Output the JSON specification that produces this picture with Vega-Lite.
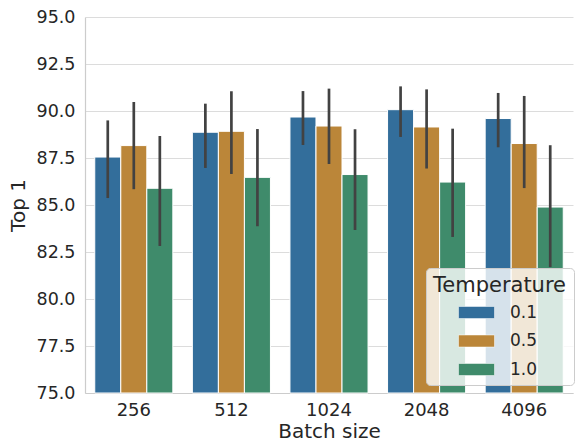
{
  "$schema": "https://vega.github.io/schema/vega-lite/v6.json",
  "width": 488,
  "height": 376,
  "autosize": "none",
  "padding": {"left": 85, "top": 17, "right": 4, "bottom": 50},
  "background": "white",
  "config": {
    "view": {"stroke": null},
    "font": "DejaVu Sans",
    "axis": {"labelFont": "DejaVu Sans", "titleFont": "DejaVu Sans", "labelColor": "#262626", "titleColor": "#262626", "titleFontWeight": "normal", "ticks": false, "domainColor": "#cccccc", "gridColor": "#dcdcdc", "domainWidth": 1.2}
  },
  "data": {
    "values": [
      {"batch": "256", "temp": "0.1", "mean": 87.55, "lo": 85.37, "hi": 89.5},
      {"batch": "256", "temp": "0.5", "mean": 88.16, "lo": 85.84, "hi": 90.48},
      {"batch": "256", "temp": "1.0", "mean": 85.89, "lo": 82.82, "hi": 88.67},
      {"batch": "512", "temp": "0.1", "mean": 88.87, "lo": 86.97, "hi": 90.39},
      {"batch": "512", "temp": "0.5", "mean": 88.92, "lo": 86.65, "hi": 91.05},
      {"batch": "512", "temp": "1.0", "mean": 86.47, "lo": 83.87, "hi": 89.04},
      {"batch": "1024", "temp": "0.1", "mean": 89.68, "lo": 88.19, "hi": 91.06},
      {"batch": "1024", "temp": "0.5", "mean": 89.2, "lo": 87.18, "hi": 91.19},
      {"batch": "1024", "temp": "1.0", "mean": 86.62, "lo": 83.67, "hi": 89.03},
      {"batch": "2048", "temp": "0.1", "mean": 90.07, "lo": 88.62, "hi": 91.31},
      {"batch": "2048", "temp": "0.5", "mean": 89.15, "lo": 86.94, "hi": 91.15},
      {"batch": "2048", "temp": "1.0", "mean": 86.22, "lo": 83.3, "hi": 89.06},
      {"batch": "4096", "temp": "0.1", "mean": 89.6, "lo": 88.07, "hi": 90.96},
      {"batch": "4096", "temp": "0.5", "mean": 88.27, "lo": 85.9, "hi": 90.8},
      {"batch": "4096", "temp": "1.0", "mean": 84.89, "lo": 81.7, "hi": 88.18}
    ]
  },
  "encoding": {
    "x": {
      "field": "batch", "type": "nominal",
      "sort": ["256", "512", "1024", "2048", "4096"],
      "scale": {"paddingInner": 0.2, "paddingOuter": 0.1},
      "axis": {"labelAngle": 0, "labelFontSize": 18, "labelPadding": 8, "title": "Batch size", "titleFontSize": 20, "titlePadding": 2}
    },
    "xOffset": {"field": "temp", "type": "nominal", "scale": {"paddingInner": 0, "paddingOuter": 0}}
  },
  "layer": [
    {
      "mark": {"type": "bar", "stroke": "white", "strokeWidth": 1},
      "encoding": {
        "y": {
          "field": "mean", "type": "quantitative",
          "scale": {"domain": [75, 95], "zero": false, "nice": false},
          "axis": {"values": [75, 77.5, 80, 82.5, 85, 87.5, 90, 92.5, 95], "format": ".1f", "labelFontSize": 17.5, "labelPadding": 10, "title": "Top 1", "titleFontSize": 20, "titlePadding": 8}
        },
        "y2": {"datum": 75},
        "color": {
          "field": "temp", "type": "nominal",
          "scale": {"domain": ["0.1", "0.5", "1.0"], "range": ["#336e9b", "#bb8639", "#3f8b6b"]},
          "legend": {
            "title": "Temperature",
            "orient": "none",
            "legendX": 341,
            "legendY": 251,
            "padding": 7,
            "fillColor": "rgba(255,255,255,0.8)",
            "strokeColor": "#cccccc",
            "cornerRadius": 4,
            "titleFontSize": 21,
            "titleFontWeight": "normal",
            "titleColor": "#262626",
            "titlePadding": 4,
            "labelFontSize": 17,
            "labelColor": "#262626",
            "labelOffset": 52,
            "symbolType": "M1.083,-0.5L4.083,-0.5L4.083,0.5L1.083,0.5Z",
            "symbolSize": 576,
            "symbolStrokeColor": "white",
            "symbolStrokeWidth": 0.5,
            "symbolOpacity": 1,
            "rowPadding": 7.5
          }
        }
      }
    },
    {
      "mark": {"type": "rule", "color": "#424242", "strokeWidth": 2.7},
      "encoding": {
        "y": {"field": "lo", "type": "quantitative"},
        "y2": {"field": "hi"}
      }
    }
  ]
}
